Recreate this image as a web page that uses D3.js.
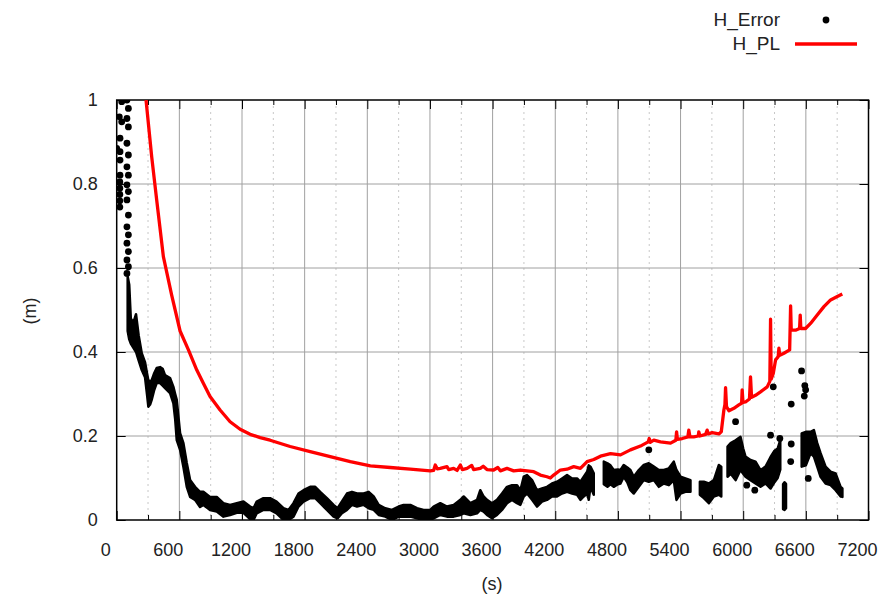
<!DOCTYPE html>
<html>
<head>
<meta charset="utf-8">
<script src="https://cdn.jsdelivr.net/npm/d3@7"></script>
<style>
  html, body { margin: 0; padding: 0; background: #fff; }
  svg { display: block; }
  text { font-family: "Liberation Sans", Arial, sans-serif; fill: #222; }
</style>
</head>
<body>
<svg id="chart" width="880" height="599"></svg>
<script>
// ---------------- DATA ----------------
const xTicks = [0, 600, 1200, 1800, 2400, 3000, 3600, 4200, 4800, 5400, 6000, 6600, 7200];
const xMinorTicks = [300, 900, 1500, 2100, 2700, 3300, 3900, 4500, 5100, 5700, 6300, 6900];
const yTicks = [0, 0.2, 0.4, 0.6, 0.8, 1];
const yTickLabels = ["0", "0.2", "0.4", "0.6", "0.8", "1"];
const seriesNames = ["H_Error", "H_PL"];

// H_Error: dense point cloud, given as lower / upper envelope per time (s); null = gap
const errBandT  = [105, 120, 135, 160, 185, 210, 240, 271, 290, 303, 320, 335, 360, 383, 415, 440, 463, 511, 543, 560, 575, 607, 639, 671, 703, 750, 798, 830, 894, 958, 1022, 1086, 1150, 1214, 1278, 1310, 1341, 1405, 1469, 1531, 1597, 1645, 1693, 1741, 1789, 1853, 1901, 1949, 2013, 2077, 2115, 2157, 2205, 2253, 2301, 2365, 2413, 2461, 2509, 2572, 2636, 2700, 2748, 2812, 2876, 2939, 3003, 3035, 3099, 3163, 3227, 3291, 3323, 3387, 3451, 3482, 3514, 3546, 3594, 3642, 3690, 3738, 3786, 3834, 3866, 3898, 3930, 3978, 4025, 4073, 4121, 4169, 4217, 4265, 4313, 4361, 4409, 4441, 4473, 4505, 4521, 4537, 4569, 4590, 4630, 4665, 4700, 4729, 4760, 4800, 4825, 4856, 4890, 4920, 4952, 5000, 5048, 5096, 5144, 5192, 5240, 5288, 5335, 5361, 5400, 5447, 5495, 5540, 5585, 5623, 5671, 5719, 5767, 5790, 5815, 5850, 5880, 5927, 5974, 6000, 6022, 6070, 6118, 6166, 6214, 6262, 6300, 6330, 6355, 6370, 6382, 6396, 6410, 6480, 6545, 6560, 6600, 6645, 6677, 6709, 6741, 6789, 6837, 6885, 6933, 6950];
const errBandLo = [0.45, 0.43, 0.42, 0.41, 0.40, 0.38, 0.357, 0.34, 0.30, 0.27, 0.275, 0.286, 0.31, 0.326, 0.326, 0.32, 0.314, 0.302, 0.278, 0.24, 0.19, 0.167, 0.126, 0.079, 0.055, 0.048, 0.031, 0.036, 0.024, 0.02, 0.008, 0.012, 0.017, 0.017, 0.002, 0.0, 0.016, 0.024, 0.024, 0.016, 0.0, 0.0, 0.008, 0.032, 0.044, 0.052, 0.052, 0.040, 0.024, 0.008, 0.004, 0.016, 0.024, 0.036, 0.032, 0.036, 0.028, 0.024, 0.012, 0.008, 0.0, 0.008, 0.008, 0.008, 0.004, 0.0, 0.0, 0.004, 0.012, 0.008, 0.008, 0.012, 0.016, 0.012, 0.016, 0.024, 0.020, 0.012, 0.004, 0.012, 0.024, 0.040, 0.048, 0.040, 0.036, 0.056, 0.063, 0.048, 0.032, 0.044, 0.048, 0.056, 0.056, 0.063, 0.067, 0.063, 0.060, 0.048, 0.056, 0.063, 0.048, 0.079, 0.060, null, null, 0.085, 0.079, 0.085, 0.079, 0.085, 0.087, 0.103, 0.09, 0.071, 0.063, 0.079, 0.095, 0.091, 0.095, 0.079, 0.087, 0.083, 0.095, 0.048, 0.063, 0.067, 0.067, null, 0.060, 0.052, 0.040, 0.056, 0.060, 0.056, null, 0.103, 0.11, 0.095, 0.119, 0.11, 0.103, 0.095, 0.087, 0.079, 0.087, 0.075, 0.09, 0.10, 0.12, null, 0.026, 0.024, 0.028, null, null, 0.127, 0.13, 0.159, 0.151, 0.127, 0.103, 0.087, 0.083, 0.071, 0.056, 0.055];
const errBandHi = [0.58, 0.56, 0.48, 0.47, 0.49, 0.44, 0.397, 0.376, 0.35, 0.333, 0.33, 0.333, 0.35, 0.362, 0.364, 0.36, 0.345, 0.338, 0.317, 0.30, 0.286, 0.207, 0.183, 0.136, 0.095, 0.079, 0.067, 0.067, 0.055, 0.055, 0.04, 0.036, 0.04, 0.044, 0.032, 0.028, 0.044, 0.052, 0.052, 0.044, 0.028, 0.024, 0.040, 0.063, 0.071, 0.079, 0.079, 0.067, 0.052, 0.036, 0.028, 0.044, 0.063, 0.067, 0.063, 0.063, 0.067, 0.056, 0.036, 0.028, 0.024, 0.032, 0.036, 0.036, 0.028, 0.024, 0.024, 0.032, 0.040, 0.032, 0.036, 0.048, 0.056, 0.040, 0.048, 0.071, 0.056, 0.048, 0.040, 0.048, 0.063, 0.079, 0.083, 0.083, 0.071, 0.103, 0.107, 0.095, 0.071, 0.075, 0.079, 0.087, 0.091, 0.099, 0.107, 0.099, 0.099, 0.091, 0.103, 0.115, 0.13, 0.127, 0.111, null, null, 0.139, 0.135, 0.13, 0.119, 0.12, 0.119, 0.131, 0.125, 0.119, 0.103, 0.119, 0.131, 0.135, 0.127, 0.119, 0.119, 0.123, 0.139, 0.119, 0.103, 0.099, 0.095, null, 0.091, 0.091, 0.087, 0.095, 0.131, 0.127, null, 0.175, 0.183, 0.190, 0.198, 0.17, 0.151, 0.143, 0.139, 0.119, 0.127, 0.15, 0.165, 0.17, 0.19, null, 0.085, 0.09, 0.086, null, null, 0.206, 0.21, 0.210, 0.214, 0.183, 0.159, 0.127, 0.115, 0.111, 0.079, 0.075];

// H_Error: isolated points (s, m)
const errPtsT = [48, 25, 48, 32, 0, 32, 32, 32, 30, 30, 30, 30, 30, 98, 112, 98, 112, 98, 112, 98, 112, 98, 112, 98, 112, 98, 112, 98, 112, 98, 112, 98, 5096, 5927, 6034, 6111, 6262, 6288, 6351, 6460, 6460, 6455, 6559, 6590, 6598, 6585, 6623];
const errPtsV = [0.996, 0.96, 0.948, 0.909, 0.885, 0.877, 0.857, 0.821, 0.805, 0.79, 0.775, 0.76, 0.745, 1.0, 0.980, 0.956, 0.936, 0.897, 0.869, 0.841, 0.821, 0.798, 0.782, 0.762, 0.726, 0.698, 0.679, 0.659, 0.639, 0.619, 0.603, 0.587, 0.167, 0.234, 0.083, 0.071, 0.202, 0.317, 0.194, 0.276, 0.181, 0.139, 0.355, 0.32, 0.31, 0.295, 0.099];

// H_PL line (s, m)
const plT = [281, 335, 383, 447, 527, 607, 687, 767, 831, 894, 990, 1086, 1182, 1278, 1374, 1469, 1661, 1853, 2045, 2237, 2429, 2620, 2812, 3003, 3035, 3051, 3070, 3099, 3163, 3180, 3227, 3260, 3291, 3310, 3355, 3400, 3418, 3482, 3510, 3546, 3610, 3650, 3674, 3738, 3802, 3866, 3930, 3994, 4057, 4121, 4153, 4185, 4249, 4313, 4377, 4441, 4505, 4569, 4633, 4729, 4825, 4920, 5016, 5090, 5100, 5110, 5144, 5208, 5304, 5355, 5362, 5370, 5416, 5470, 5479, 5490, 5527, 5570, 5575, 5585, 5640, 5655, 5665, 5703, 5767, 5790, 5815, 5825, 5831, 5840, 5863, 5911, 5958, 5985, 5990, 5998, 6022, 6060, 6070, 6080, 6118, 6166, 6230, 6255, 6262, 6268, 6288, 6310, 6335, 6342, 6350, 6390, 6445, 6454, 6460, 6501, 6540, 6546, 6552, 6597, 6645, 6709, 6773, 6837, 6901, 6949];
const plV = [1.0, 0.865, 0.762, 0.627, 0.535, 0.45, 0.405, 0.357, 0.325, 0.294, 0.262, 0.234, 0.216, 0.204, 0.196, 0.190, 0.175, 0.163, 0.151, 0.139, 0.129, 0.125, 0.121, 0.117, 0.118, 0.131, 0.122, 0.123, 0.127, 0.12, 0.123, 0.118, 0.131, 0.12, 0.123, 0.13, 0.12, 0.123, 0.128, 0.12, 0.119, 0.125, 0.117, 0.123, 0.117, 0.119, 0.117, 0.115, 0.107, 0.103, 0.100, 0.107, 0.119, 0.121, 0.127, 0.123, 0.139, 0.144, 0.152, 0.158, 0.155, 0.167, 0.176, 0.186, 0.194, 0.185, 0.190, 0.186, 0.183, 0.190, 0.210, 0.192, 0.194, 0.198, 0.214, 0.198, 0.198, 0.200, 0.210, 0.200, 0.204, 0.214, 0.205, 0.208, 0.205, 0.210, 0.262, 0.275, 0.315, 0.27, 0.260, 0.266, 0.274, 0.278, 0.31, 0.28, 0.281, 0.288, 0.341, 0.292, 0.297, 0.305, 0.317, 0.33, 0.478, 0.335, 0.349, 0.381, 0.389, 0.409, 0.392, 0.397, 0.405, 0.510, 0.452, 0.452, 0.456, 0.488, 0.456, 0.456, 0.468, 0.488, 0.508, 0.524, 0.532, 0.538];

// ---------------- DRAWING ----------------
const svg = d3.select("#chart");
const plot = { left: 116.7, right: 868.5, top: 100, bottom: 520 };
const x = d3.scaleLinear().domain([0, 7200]).range([plot.left, plot.right]);
const y = d3.scaleLinear().domain([0, 1]).range([plot.bottom, plot.top]);

svg.append("defs").append("clipPath").attr("id", "clip")
  .append("rect").attr("x", plot.left).attr("y", plot.top)
  .attr("width", plot.right - plot.left).attr("height", plot.bottom - plot.top);

// grid
const grid = svg.append("g");
grid.selectAll("line.vmaj").data(xTicks.slice(1, -1)).join("line")
  .attr("x1", d => x(d)).attr("x2", d => x(d)).attr("y1", plot.top).attr("y2", plot.bottom)
  .attr("stroke", "#a0a0a0").attr("stroke-width", 1);
grid.selectAll("line.vmin").data(xMinorTicks).join("line")
  .attr("x1", d => x(d)).attr("x2", d => x(d)).attr("y1", plot.top).attr("y2", plot.bottom)
  .attr("stroke", "#c8c8c8").attr("stroke-width", 1).attr("stroke-dasharray", "2,4");
grid.selectAll("line.h").data(yTicks.slice(1, -1)).join("line")
  .attr("x1", plot.left).attr("x2", plot.right).attr("y1", d => y(d)).attr("y2", d => y(d))
  .attr("stroke", "#a0a0a0").attr("stroke-width", 1);

// axes
const fontSize = 18;
const axB = svg.append("g").attr("transform", `translate(0,${plot.bottom})`)
  .call(d3.axisBottom(x).tickValues(xTicks).tickSize(-9).tickPadding(23).tickFormat(d3.format("d")));
axB.selectAll(".tick text").attr("x", -11.5);
const axL = svg.append("g").attr("transform", `translate(${plot.left},0)`)
  .call(d3.axisLeft(y).tickValues(yTicks).tickSize(-9).tickPadding(19).tickFormat((d, i) => yTickLabels[i]));
const axT = svg.append("g").attr("transform", `translate(0,${plot.top})`)
  .call(d3.axisTop(x).tickValues(xTicks).tickSize(-9).tickFormat(""));
const axR = svg.append("g").attr("transform", `translate(${plot.right},0)`)
  .call(d3.axisRight(y).tickValues(yTicks).tickSize(-9).tickFormat(""));
// minor x ticks
svg.append("g").attr("transform", `translate(0,${plot.bottom})`)
  .call(d3.axisBottom(x).tickValues(xMinorTicks).tickSize(-5).tickFormat(""));
svg.append("g").attr("transform", `translate(0,${plot.top})`)
  .call(d3.axisTop(x).tickValues(xMinorTicks).tickSize(-5).tickFormat(""));
svg.selectAll(".domain").remove();
svg.selectAll(".tick line").attr("stroke", "#000");
svg.selectAll(".tick text").style("font-family", '"Liberation Sans", Arial, sans-serif')
  .style("font-size", fontSize + "px").attr("fill", "#222");

// frame
svg.append("rect").attr("x", plot.left).attr("y", plot.top)
  .attr("width", plot.right - plot.left).attr("height", plot.bottom - plot.top)
  .attr("fill", "none").attr("stroke", "#000").attr("stroke-width", 1.5);

// H_Error band
const band = errBandT.map((t, i) => ({ t, lo: errBandLo[i], hi: errBandHi[i] }));
const data = svg.append("g").attr("clip-path", "url(#clip)");
const area = d3.area().defined(d => d.lo !== null)
  .x(d => x(d.t)).y0(d => y(d.lo)).y1(d => y(d.hi));
data.append("path").datum(band).attr("d", area)
  .attr("fill", "#000").attr("stroke", "#000").attr("stroke-width", 2.5).attr("stroke-linejoin", "round");

// H_Error isolated points
const pts = errPtsT.map((t, i) => ({ t, v: errPtsV[i] }));
data.selectAll("circle.pt").data(pts).join("circle")
  .attr("cx", d => x(d.t)).attr("cy", d => y(d.v)).attr("r", 3.4).attr("fill", "#000");

// H_PL line
const pl = plT.map((t, i) => ({ t, v: plV[i] }));
data.append("path").datum(pl)
  .attr("d", d3.line().x(d => x(d.t)).y(d => y(d.v)))
  .attr("fill", "none").attr("stroke", "#ff0000").attr("stroke-width", 3.3).attr("stroke-linejoin", "round");

// axis titles
svg.append("text").attr("x", 492).attr("y", 590).attr("text-anchor", "middle")
  .style("font-size", fontSize + "px").text("(s)");
svg.append("text").attr("transform", "translate(36,311) rotate(-90)").attr("text-anchor", "middle")
  .style("font-size", fontSize + "px").text("(m)");

// legend
const lg = svg.append("g");
lg.append("text").attr("x", 780).attr("y", 26).attr("text-anchor", "end")
  .style("font-size", "19px").text(seriesNames[0]);
lg.append("circle").attr("cx", 826).attr("cy", 20).attr("r", 3.4).attr("fill", "#000");
lg.append("text").attr("x", 780).attr("y", 50).attr("text-anchor", "end")
  .style("font-size", "19px").text(seriesNames[1]);
lg.append("line").attr("x1", 795).attr("x2", 857).attr("y1", 44).attr("y2", 44)
  .attr("stroke", "#ff0000").attr("stroke-width", 3.3);
</script>
</body>
</html>
